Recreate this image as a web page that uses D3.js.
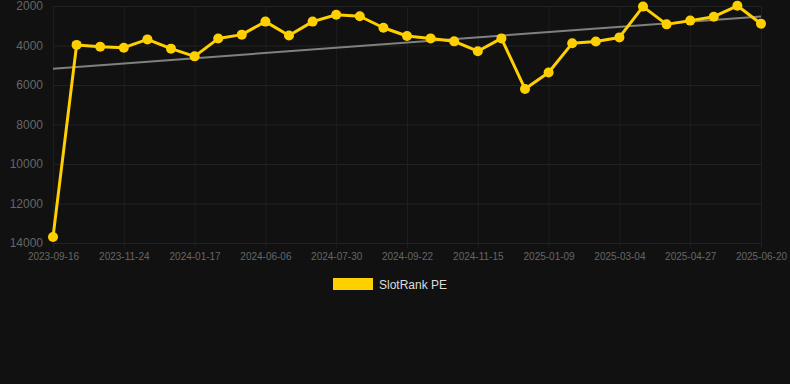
<!DOCTYPE html>
<html>
<head>
<meta charset="utf-8">
<script src="https://cdn.jsdelivr.net/npm/d3@7"></script>
<style>
  html, body { margin: 0; padding: 0; background: #111111; }
  svg { display: block; font-family: Arial, "Liberation Sans", sans-serif; }
</style>
</head>
<body>
<svg id="chart" width="790" height="384"></svg>
<script>
var dates = [
  "2023-09-16", "2023-10-09", "2023-11-01", "2023-11-24", "2023-12-12", "2023-12-30",
  "2024-01-17", "2024-03-05", "2024-04-21", "2024-06-06", "2024-06-24", "2024-07-12",
  "2024-07-30", "2024-08-17", "2024-09-04", "2024-09-22", "2024-10-10", "2024-10-28",
  "2024-11-15", "2024-12-03", "2024-12-21", "2025-01-09", "2025-01-27", "2025-02-14",
  "2025-03-04", "2025-03-22", "2025-04-09", "2025-04-27", "2025-05-15", "2025-06-02",
  "2025-06-20"
];
var ranks = [
  13700, 3970, 4060, 4110, 3690, 4160, 4550, 3650, 3450, 2790, 3490, 2790,
  2440, 2520, 3100, 3520, 3640, 3790, 4290, 3640, 6200, 5370, 3890, 3800,
  3590, 2030, 2930, 2740, 2540, 1990, 2900
];
var yTicks = [2000, 4000, 6000, 8000, 10000, 12000, 14000];
var seriesName = "SlotRank PE";

var svg = d3.select("#chart");
var plotLeft = 53, plotRight = 761, plotTop = 6, plotBottom = 243;

var x = d3.scalePoint().domain(dates).range([plotLeft, plotRight]);
var y = d3.scaleLinear().domain([2000, 14000]).range([plotTop, plotBottom]);

var shown = dates.filter(function (d, i) { return i % 3 === 0; });

// grid
var grid = svg.append("g");
grid.selectAll("line.h").data(yTicks).enter().append("line")
  .attr("x1", plotLeft).attr("x2", plotRight)
  .attr("y1", function (d) { return y(d) + 0.5; })
  .attr("y2", function (d) { return y(d) + 0.5; })
  .attr("stroke", "#222222").attr("stroke-width", 1);
grid.selectAll("line.v").data(shown).enter().append("line")
  .attr("x1", function (d) { return x(d) + 0.5; })
  .attr("x2", function (d) { return x(d) + 0.5; })
  .attr("y1", plotTop).attr("y2", plotBottom + 5)
  .attr("stroke", "#1e1e1e").attr("stroke-width", 1);

// axes
var yAxis = svg.append("g")
  .attr("transform", "translate(" + (plotLeft - 10) + ",0)")
  .call(d3.axisLeft(y).tickValues(yTicks).tickSize(0).tickPadding(0).tickFormat(d3.format("d")));
yAxis.select(".domain").remove();
yAxis.selectAll("text").attr("fill", "#666666").style("font-size", "12px");

var xAxis = svg.append("g")
  .attr("transform", "translate(0," + (plotBottom + 10) + ")")
  .call(d3.axisBottom(x).tickValues(shown).tickSize(0).tickPadding(0));
xAxis.select(".domain").remove();
xAxis.selectAll("text").attr("fill", "#666666").style("font-size", "10px");

// trend line (least squares through the ranks)
var n = ranks.length;
var idx = d3.range(n);
var mx = d3.mean(idx), my = d3.mean(ranks);
var slope = d3.sum(idx, function (i) { return (i - mx) * (ranks[i] - my); }) /
  d3.sum(idx, function (i) { return (i - mx) * (i - mx); });
var icpt = my - slope * mx;
svg.append("line")
  .attr("x1", x(dates[0])).attr("y1", y(icpt))
  .attr("x2", x(dates[n - 1])).attr("y2", y(icpt + slope * (n - 1)))
  .attr("stroke", "#808080").attr("stroke-width", 2);

// series
var line = d3.line()
  .x(function (d, i) { return x(dates[i]); })
  .y(function (d) { return y(d); });
svg.append("path").datum(ranks)
  .attr("d", line)
  .attr("fill", "none")
  .attr("stroke", "#FFD000")
  .attr("stroke-width", 3)
  .attr("stroke-linejoin", "round");
svg.append("g").selectAll("circle").data(ranks).enter().append("circle")
  .attr("cx", function (d, i) { return x(dates[i]); })
  .attr("cy", function (d) { return y(d); })
  .attr("r", 5)
  .attr("fill", "#FFD000");

// legend
var legend = svg.append("g");
legend.append("rect")
  .attr("x", 333).attr("y", 278).attr("width", 40).attr("height", 12)
  .attr("fill", "#FFD000");
legend.append("text")
  .attr("x", 379).attr("y", 288.5)
  .attr("fill", "#dddddd")
  .style("font-size", "12px")
  .text(seriesName);
</script>
</body>
</html>
